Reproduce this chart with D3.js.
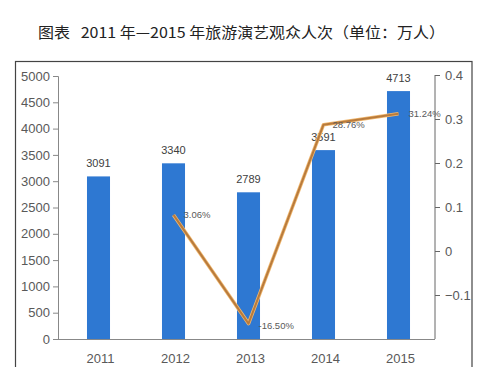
<!DOCTYPE html>
<html><head><meta charset="utf-8">
<script src="https://cdn.jsdelivr.net/npm/d3@7"></script>
<style>body{margin:0;background:#fff}svg{display:block}</style>
</head><body>
<svg id="c" width="500" height="367"></svg>
<script>
const years = ["2011","2012","2013","2014","2015"];
const audience = [3091, 3340, 2789, 3591, 4713];
const growthYears = ["2012","2013","2014","2015"];
const growthPlotted = [0.082, -0.165, 0.287, 0.312];
const growthLabels = ["3.06%", "-16.50%", "28.76%", "31.24%"];
const leftTicks = [0,500,1000,1500,2000,2500,3000,3500,4000,4500,5000];
const rightTicks = [-0.1, 0, 0.1, 0.2, 0.3, 0.4];
const title = "图表   2011 年—2015 年旅游演艺观众人次（单位：万人）";

const svg = d3.select("#c");
const font = "'Liberation Sans','DejaVu Sans',sans-serif";

// title
svg.append("text").attr("x",38).attr("y",38)
  .attr("xml:space","preserve")
  .attr("textLength",407).attr("lengthAdjust","spacingAndGlyphs")
  .style("font-family","'Noto Sans CJK SC',sans-serif").style("font-size","15px")
  .attr("fill","#222").text(title);

// frame
svg.append("rect").attr("x",15.5).attr("y",61.5).attr("width",456.5).attr("height",330)
  .attr("fill","none").attr("stroke","#444").attr("stroke-width",1.2);

const x = d3.scaleBand().domain(years).range([61,436]).paddingInner(0.693).paddingOuter(0.3465);
const yL = d3.scaleLinear().domain([0,5000]).range([339,76]);
const yR = d3.scaleLinear().domain([-0.2,0.4]).range([339,75]);

const axisColor = "#888", labColor = "#595959";

// left axis
const gL = svg.append("g").attr("transform","translate(58,0)")
  .call(d3.axisLeft(yL).tickValues(leftTicks).tickSize(5).tickPadding(3).tickFormat(d3.format("d")));
gL.select(".domain").attr("stroke",axisColor);
gL.selectAll(".tick line").attr("stroke",axisColor);
gL.selectAll("text").attr("fill",labColor).style("font-family",font).style("font-size","13px");

// right axis
const gR = svg.append("g").attr("transform","translate(435,0)")
  .call(d3.axisRight(yR).tickValues(rightTicks).tickSize(5).tickPadding(5).tickFormat(d=> d===0?"0":d3.format("")(+d.toFixed(1))));
gR.select(".domain").attr("stroke","#666").attr("d","M0,75V339");
gR.selectAll(".tick line").attr("stroke","#666");
gR.selectAll("text").attr("fill",labColor).style("font-family",font).style("font-size","13px");

// bars
svg.append("g").selectAll("rect").data(audience).join("rect")
  .attr("x",(d,i)=>x(years[i])).attr("width",x.bandwidth())
  .attr("y",d=>yL(d)).attr("height",d=>yL(0)-yL(d))
  .attr("fill","#2e78d2");

// x baseline
svg.append("line").attr("x1",58).attr("x2",435).attr("y1",339.5).attr("y2",339.5).attr("stroke",axisColor);

// x labels
svg.append("g").selectAll("text").data(years).join("text")
  .attr("x",d=>x(d)+x.bandwidth()/2+2).attr("y",363).attr("text-anchor","middle")
  .attr("fill",labColor).style("font-family",font).style("font-size","13px").text(d=>d);

// bar value labels
svg.append("g").selectAll("text").data(audience).join("text")
  .attr("x",(d,i)=>x(years[i])+x.bandwidth()/2).attr("y",d=>yL(d)-9).attr("text-anchor","middle")
  .attr("fill","#404040").style("font-family",font).style("font-size","11px").text(d=>d);

// growth line
const line = d3.line().x((d,i)=>x(growthYears[i])+x.bandwidth()/2).y(d=>yR(d));
svg.append("path").datum(growthPlotted).attr("d",line).attr("fill","none")
  .attr("stroke","#f0b870").attr("stroke-width",3.6).attr("stroke-linejoin","round");
svg.append("path").datum(growthPlotted).attr("d",line).attr("fill","none")
  .attr("stroke","#b97b3c").attr("stroke-width",2).attr("stroke-linejoin","round");

// growth labels
svg.append("g").selectAll("text").data(growthPlotted).join("text")
  .attr("x",(d,i)=>x(growthYears[i])+x.bandwidth()/2+ (i===2?9:10))
  .attr("y",(d,i)=>yR(d)+(i===1?5:3))
  .attr("fill","#595959").style("font-family",font).style("font-size","9.5px")
  .text((d,i)=>growthLabels[i]);
</script>
</body></html>
